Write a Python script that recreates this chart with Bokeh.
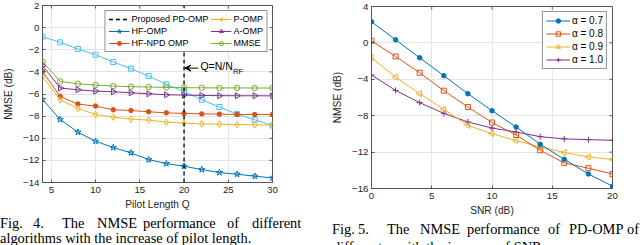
import math
from bokeh.plotting import figure
from bokeh.models import (Range1d, FixedTicker, Legend, LegendItem,
                          Arrow, VeeHead, Label, Div)
from bokeh.layouts import row, column
from bokeh.embed import file_html
from bokeh.resources import INLINE

# ---------------- Fig. 4 data ----------------
pilot_length = [4, 6, 8, 10, 12, 14, 16, 18, 20, 22, 24, 26, 28, 30]
nmse_lightblue_sq = [-0.82, -1.33, -1.93, -2.45, -3.11, -3.71, -4.38, -5.13, -5.77, -6.52, -7.18, -7.82, -8.33, -8.85]
nmse_hf_omp = [-6.49, -8.30, -9.45, -10.27, -10.84, -11.32, -11.93, -12.29, -12.53, -12.83, -13.10, -13.25, -13.43, -13.59]
nmse_hf_npd_omp = [-3.96, -6.22, -6.91, -7.09, -7.43, -7.49, -7.61, -7.70, -7.76, -7.80, -7.82, -7.85, -7.85, -7.85]
nmse_p_omp = [-4.41, -6.52, -7.31, -7.85, -8.09, -8.27, -8.36, -8.54, -8.63, -8.70, -8.73, -8.76, -8.79, -8.82]
nmse_a_omp = [-3.44, -5.46, -5.62, -5.74, -5.80, -5.89, -5.98, -6.07, -6.10, -6.13, -6.15, -6.16, -6.16, -6.17]
nmse_mmse = [-3.08, -4.86, -5.07, -5.19, -5.28, -5.34, -5.37, -5.40, -5.43, -5.44, -5.45, -5.45, -5.46, -5.46]
q_threshold = 20  # Q = N / N_RF
fig4_xlim = (4, 30)
fig4_ylim = (-14, 2)
fig4_xticks = [5, 10, 15, 20, 25, 30]
fig4_yticks = [-14, -12, -10, -8, -6, -4, -2, 0, 2]
fig4_legend = ["Proposed PD-OMP", "HF-OMP", "HF-NPD OMP", "P-OMP", "A-OMP", "MMSE"]

# ---------------- Fig. 5 data ----------------
snr_db = [0, 2, 4, 6, 8, 10, 12, 14, 16, 18, 20]
nmse_alpha_07 = [2.32, 0.34, -1.63, -3.60, -5.58, -7.45, -9.24, -11.14, -12.79, -14.40, -15.75]
nmse_alpha_08 = [0.23, -1.49, -3.28, -5.25, -7.05, -8.75, -10.12, -11.80, -13.19, -13.77, -14.40]
nmse_alpha_09 = [-1.63, -3.76, -5.58, -7.30, -9.06, -9.98, -10.73, -11.43, -12.05, -12.53, -12.82]
nmse_alpha_10 = [-3.53, -5.22, -6.57, -7.74, -8.69, -9.36, -9.79, -10.30, -10.55, -10.63, -10.70]
fig5_xlim = (0, 20)
fig5_ylim = (-16, 4)
fig5_xticks = [0, 5, 10, 15, 20]
fig5_yticks = [-16, -12, -8, -4, 0, 4]
fig5_legend = ["\u03b1 = 0.7", "\u03b1 = 0.8", "\u03b1 = 0.9", "\u03b1 = 1.0"]

# ---------------- captions ----------------
cap4_line1 = [("Fig.", 0), ("4.", 33), ("The", 62), ("NMSE", 97),
              ("performance", 143), ("of", 227), ("different", 252)]
cap4_line2 = "algorithms with the increase of pilot length."
cap5_line1 = [("Fig.", 12), ("5.", 38), ("The", 67), ("NMSE", 100),
              ("performance", 147), ("of", 228), ("PD-OMP", 249), ("of", 307)]
cap5_line2 = "different <i>\u03b1</i> with the increase of SNR."

AX = "#262626"
EDGE = "#555555"
GRID = "#e4e4e4"
SANS = "Liberation Sans"
SERIF = "Liberation Serif"
BLUE, ORANGE, YELLOW = "#0072BD", "#D95319", "#EDB120"
PURPLE, GREEN, LBLUE = "#7E2F8E", "#77AC30", "#4DBEEE"


def style(p, xt, yt, xlim, ylim):
    p.background_fill_color = "white"
    p.border_fill_color = "white"
    p.outline_line_color = EDGE
    p.outline_line_width = 1
    for ax, t in ((p.below[0], xt), (p.left[0], yt)):
        ax.ticker = FixedTicker(ticks=t)
        ax.axis_line_color = EDGE
        ax.major_tick_line_color = EDGE
        ax.major_tick_in = 3
        ax.major_tick_out = 0
        ax.minor_tick_line_color = None
        ax.major_label_text_font = SANS
        ax.major_label_text_font_size = "9.7px"
        ax.major_label_text_color = AX
        ax.axis_label_text_font = SANS
        ax.axis_label_text_font_size = "10.2px"
        ax.axis_label_text_font_style = "normal"
        ax.axis_label_text_color = AX
    p.below[0].major_label_standoff = 4
    p.below[0].axis_label_standoff = 3
    p.left[0].major_label_standoff = 3
    p.left[0].axis_label_standoff = 6
    p.xgrid.ticker = FixedTicker(ticks=xt)
    p.ygrid.ticker = FixedTicker(ticks=yt)
    p.grid.grid_line_color = GRID
    p.grid.grid_line_width = 1
    # inward tick marks on the top and right edges of the box
    p.ray(x=xt, y=[ylim[1]] * len(xt), length=3, length_units="screen",
          angle=-math.pi / 2, line_color=EDGE, line_width=1)
    p.ray(x=[xlim[1]] * len(yt), y=yt, length=3, length_units="screen",
          angle=math.pi, line_color=EDGE, line_width=1)


def series(p, x, y, color, marker, size, filled=False, angle=0.0):
    ln = p.line(x, y, line_color=color, line_width=1)
    sc = p.scatter(x, y, marker=marker, size=size, line_color=color, line_width=1,
                   fill_color=color if filled else None, angle=angle)
    return [ln, sc]


# ---------------- Fig. 4 ----------------
p1 = figure(width=320, height=214, x_range=Range1d(*fig4_xlim), y_range=Range1d(*fig4_ylim),
            output_backend="svg", toolbar_location=None,
            min_border_left=39, min_border_right=48, min_border_top=5, min_border_bottom=32,
            x_axis_label="Pilot Length Q", y_axis_label="NMSE (dB)")
style(p1, fig4_xticks, fig4_yticks, fig4_xlim, fig4_ylim)

series(p1, pilot_length, nmse_lightblue_sq, LBLUE, "square", 5)
r_mmse = series(p1, pilot_length, nmse_mmse, GREEN, "circle", 5.5)
r_a = series(p1, pilot_length, nmse_a_omp, PURPLE, "triangle", 6, angle=-math.pi / 2)
r_npd = series(p1, pilot_length, nmse_hf_npd_omp, ORANGE, "circle", 4.5, filled=True)
r_p = series(p1, pilot_length, nmse_p_omp, YELLOW, "diamond", 6.5)
r_hf = series(p1, pilot_length, nmse_hf_omp, BLUE, "star", 6.5)
r_v = p1.line([q_threshold, q_threshold], [fig4_ylim[0], fig4_ylim[1]],
              line_color="black", line_width=1.3, line_dash="4 3")

leg1 = Legend(items=[LegendItem(label=fig4_legend[0], renderers=[r_v]),
                     LegendItem(label=fig4_legend[1], renderers=r_hf),
                     LegendItem(label=fig4_legend[2], renderers=r_npd),
                     LegendItem(label=fig4_legend[3], renderers=r_p),
                     LegendItem(label=fig4_legend[4], renderers=r_a),
                     LegendItem(label=fig4_legend[5], renderers=r_mmse)],
              location="top_right", orientation="vertical", nrows=3,
              margin=5, padding=3, spacing=2, label_standoff=2,
              glyph_width=21, glyph_height=10, label_height=10,
              label_text_font=SANS, label_text_font_size="9px", label_text_color="black",
              border_line_color=AX, border_line_width=1, background_fill_alpha=1)
p1.add_layout(leg1)

p1.add_layout(Arrow(end=VeeHead(size=6, fill_color="black", line_color="black"),
                    x_start=21.6, y_start=-3.66, x_end=20.1, y_end=-3.66,
                    line_color="black", line_width=1))
p1.add_layout(Label(x=21.85, y=-3.44, text="Q=N/N", text_font=SANS, text_font_size="10.5px",
                    text_baseline="middle", text_color="black"))
p1.add_layout(Label(x=21.85, y=-3.99, x_offset=32.5, text="RF", text_font=SANS,
                    text_font_size="7.7px", text_baseline="middle", text_color="black"))

# ---------------- Fig. 5 ----------------
p2 = figure(width=320, height=221, x_range=Range1d(*fig5_xlim), y_range=Range1d(*fig5_ylim),
            output_backend="svg", toolbar_location=None,
            min_border_left=51, min_border_right=28, min_border_top=6, min_border_bottom=33,
            x_axis_label="SNR (dB)", y_axis_label="NMSE (dB)")
style(p2, fig5_xticks, fig5_yticks, fig5_xlim, fig5_ylim)

r10 = series(p2, snr_db, nmse_alpha_10, PURPLE, "cross", 6)
r09 = series(p2, snr_db, nmse_alpha_09, YELLOW, "triangle", 6, angle=math.pi / 2)
r08 = series(p2, snr_db, nmse_alpha_08, ORANGE, "square", 5)
r07 = series(p2, snr_db, nmse_alpha_07, BLUE, "circle", 4.5, filled=True)

leg2 = Legend(items=[LegendItem(label=fig5_legend[0], renderers=r07),
                     LegendItem(label=fig5_legend[1], renderers=r08),
                     LegendItem(label=fig5_legend[2], renderers=r09),
                     LegendItem(label=fig5_legend[3], renderers=r10)],
              location="top_right", margin=5, padding=3, spacing=2, label_standoff=2,
              glyph_width=24, glyph_height=11, label_height=11,
              label_text_font=SANS, label_text_font_size="10px", label_text_color="black",
              border_line_color=AX, border_line_width=1, background_fill_alpha=1)
p2.add_layout(leg2)


# ---------------- captions (HTML text blocks) ----------------
def caption_div(h, words, y1, line2, x2, y2):
    fs = 14.4
    spans = []
    for w, x in words:
        spans.append(f'<span style="position:absolute;left:{x}px;top:{y1 - fs / 2:.1f}px;'
                     f'white-space:nowrap;">{w}</span>')
    spans.append(f'<span style="position:absolute;left:{x2}px;top:{y2 - fs / 2:.1f}px;'
                 f'white-space:nowrap;">{line2}</span>')
    html = (f'<div style="position:relative;width:320px;height:{h}px;overflow:hidden;'
            f"font-family:'{SERIF}';font-size:{fs}px;line-height:1;color:black;\">"
            + "".join(spans) + "</div>")
    return Div(text=html, width=320, height=h, margin=0,
               styles={"overflow": "hidden"})


c1 = caption_div(31, cap4_line1, 9.0, cap4_line2, 0, 24.5)
c2 = caption_div(24, cap5_line1, 8.0, cap5_line2, 13, 26.0)

layout = row(column(p1, c1, spacing=0), column(p2, c2, spacing=0), spacing=0)
open("out.html", "w").write(file_html(layout, INLINE))
